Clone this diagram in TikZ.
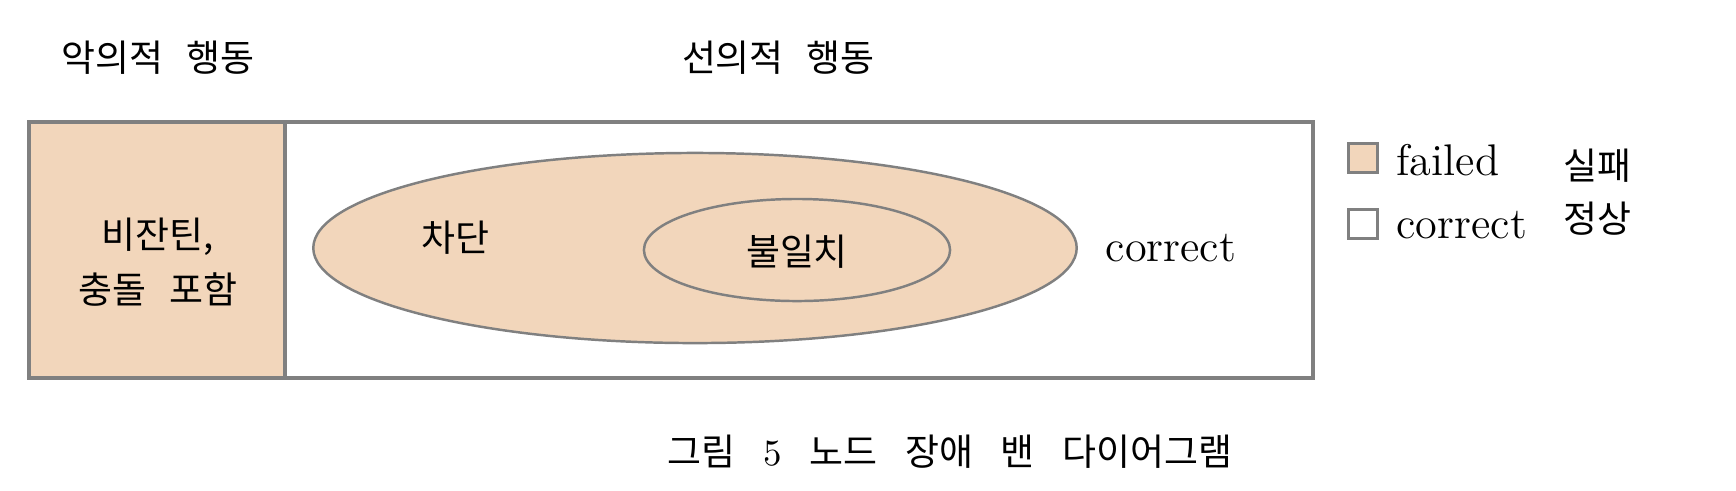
\documentclass[tikz,border=0pt]{standalone}
\usepackage{fontspec}
\newfontfamily\kr{Noto Sans CJK KR}
\usepackage{tikz}
\usetikzlibrary{shapes.geometric, positioning}
\definecolor{failfill}{RGB}{242,214,187}
\definecolor{edgegray}{RGB}{128,128,128}
\tikzset{
  region/.style={rectangle, draw=edgegray, line width=1.1pt,
    inner sep=0pt, outer sep=0pt, minimum height=2.56cm},
  setell/.style={ellipse, draw=edgegray, fill=failfill,
    line width=0.7pt, inner sep=0pt},
  krlabel/.style={font=\kr\fontsize{10.5}{15.6}\selectfont, inner sep=0pt, align=center},
  enlabel/.style={font=\fontsize{12.6}{14}\selectfont, inner sep=0pt},
  keybox/.style={rectangle, draw=edgegray, line width=1.1pt,
    minimum size=0.29cm, inner sep=0pt}
}
\begin{document}
\begin{tikzpicture}[x=0.01cm, y=-0.01cm]
  \useasboundingbox (0,0) rectangle (1736,490);

  % Headings
  \node[krlabel] (maltitle) at (158,58) {악의적\hspace{0.6em}행동};
  \node[krlabel] (goodtitle) at (778,58) {선의적\hspace{0.6em}행동};

  % Regions
  \node[region, fill=failfill, minimum width=2.56cm] (malicious) at (157,250) {};
  \node[region, fill=white, minimum width=10.27cm, right=0pt of malicious] (benign) {};

  % Nested sets
  \node[setell, minimum width=7.63cm, minimum height=1.9cm] (blocked) at (695,248) {};
  \node[setell, minimum width=3.06cm, minimum height=1.02cm] (mismatch) at (797,250) {};

  % Region labels
  \node[krlabel] (byz) at (158,262) {비잔틴,\\충돌\hspace{0.6em}포함};
  \node[krlabel] (blocklbl) at (455,238) {차단};
  \node[krlabel] (mislbl) at (797,252) {불일치};
  \node[enlabel] (corlbl) at (1171,248) {correct};

  % Legend
  \node[keybox, fill=failfill] (keyfail) at (1363,158) {};
  \node[keybox, fill=white] (keyok) at (1363,224) {};
  \node[enlabel, anchor=west] (failtxt) at (1396,160) {failed};
  \node[enlabel, anchor=west] (oktxt) at (1396,225) {correct};
  \node[krlabel] (failkr) at (1597,166) {실패};
  \node[krlabel] (okkr) at (1597,219) {정상};

  % Caption
  \node[krlabel] (caption) at (950,452) {그림\hspace{0.75em}{\rmfamily 5}\hspace{0.75em}노드\hspace{0.75em}장애\hspace{0.75em}밴\hspace{0.75em}다이어그램};
\end{tikzpicture}
\end{document}
